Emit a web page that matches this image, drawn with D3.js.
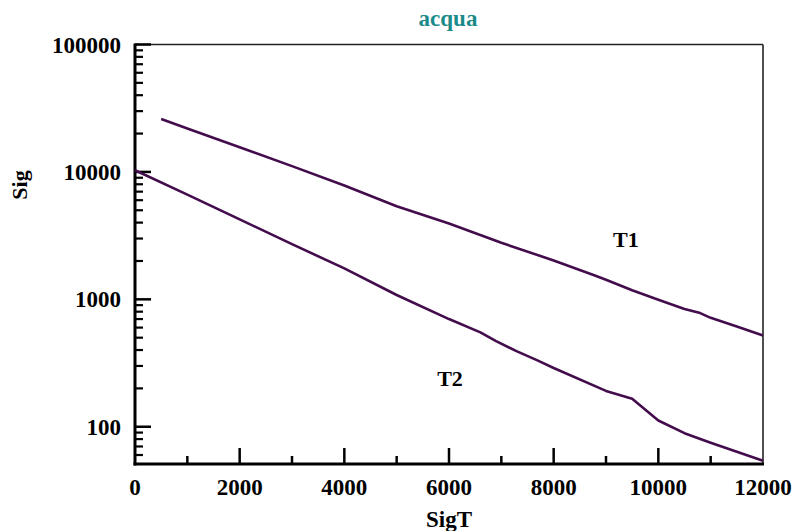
<!DOCTYPE html>
<html><head><meta charset="utf-8">
<script src="https://cdn.jsdelivr.net/npm/d3@7/dist/d3.min.js"></script>
<style>body{margin:0;background:#fff}svg{display:block}</style>
</head><body>
<svg id="c" width="794" height="531"></svg>
<script>
const title = "acqua";
const xLabel = "SigT";
const yLabel = "Sig";
const xTickValues = [0, 2000, 4000, 6000, 8000, 10000, 12000];
const yTickValues = [100, 1000, 10000, 100000];
const t1X = [500, 1000, 2000, 3000, 4000, 5000, 6000, 7000, 8000, 8800, 9000, 9500, 10000, 10500, 10800, 11000, 11500, 12000];
const t1Y = [26000, 21950, 15600, 11100, 7830, 5380, 3935, 2780, 2018, 1530, 1426, 1177, 991, 839, 780, 716, 611, 520];
const t2X = [0, 1000, 2000, 3000, 4000, 5000, 6000, 6600, 6900, 7300, 7700, 8000, 9000, 9500, 10000, 10500, 11000, 11500, 12000];
const t2Y = [10300, 6640, 4240, 2710, 1750, 1081, 700, 550, 470, 390, 330, 289, 191, 166, 112, 89, 75, 63.7, 54];
const seriesNames = ["T1", "T2"];
const labelPos = [[9380, 2980], [6020, 238]];

const svg = d3.select("#c");
const L = 135, R = 763, T = 44.5, B = 464;
const x = d3.scaleLinear().domain([0, 12000]).range([L, R]);
const y = d3.scaleLog().domain([51, 100000]).range([B, T]);
const font = "'Liberation Serif','Times New Roman',serif";

svg.append("line").attr("x1", L).attr("x2", R).attr("y1", T).attr("y2", T).attr("stroke", "#222").attr("stroke-width", 1.6);
svg.append("line").attr("x1", R).attr("x2", R).attr("y1", T).attr("y2", B).attr("stroke", "#222").attr("stroke-width", 1.6);

const yMinor = [];
for (let d = 10; d <= 10000; d *= 10) for (let k = 2; k <= 9; k++) { const v = k * d; if (v >= 51 && v < 100000) yMinor.push(v); }
const gy = svg.append("g");
gy.selectAll(".ym").data(yMinor).join("line").attr("x1", L).attr("x2", L + 8)
  .attr("y1", d => y(d)).attr("y2", d => y(d)).attr("stroke", "#000").attr("stroke-width", 2.2);
gy.selectAll(".yM").data(yTickValues).join("line").attr("x1", L).attr("x2", L + 16)
  .attr("y1", d => y(d)).attr("y2", d => y(d)).attr("stroke", "#000").attr("stroke-width", 2.5);
gy.selectAll("text").data(yTickValues).join("text").attr("x", L - 14).attr("y", d => y(d)).attr("dy", "0.35em")
  .attr("text-anchor", "end").attr("font-family", font).attr("font-weight", "bold").attr("font-size", 23).text(d => d);

const xMinor = d3.range(1000, 12000, 2000);
const gx = svg.append("g");
gx.selectAll(".xm").data(xMinor).join("line").attr("x1", d => x(d)).attr("x2", d => x(d))
  .attr("y1", B).attr("y2", B - 8).attr("stroke", "#000").attr("stroke-width", 2.5);
gx.selectAll(".xM").data(xTickValues.slice(1, -1)).join("line").attr("x1", d => x(d)).attr("x2", d => x(d))
  .attr("y1", B).attr("y2", B - 16).attr("stroke", "#000").attr("stroke-width", 2.5);
gx.selectAll("text").data(xTickValues).join("text").attr("x", d => x(d)).attr("y", 495)
  .attr("text-anchor", "middle").attr("font-family", font).attr("font-weight", "bold").attr("font-size", 23).text(d => d);

svg.append("line").attr("x1", L).attr("x2", L).attr("y1", T - 1).attr("y2", B + 1.5).attr("stroke", "#000").attr("stroke-width", 3);
svg.append("line").attr("x1", L - 1.5).attr("x2", R + 1).attr("y1", B).attr("y2", B).attr("stroke", "#000").attr("stroke-width", 3);

const line = d3.line().x(d => x(d[0])).y(d => y(d[1]));
[[t1X, t1Y], [t2X, t2Y]].forEach(([xs, ys]) => {
  svg.append("path").datum(xs.map((v, i) => [v, ys[i]])).attr("d", line)
    .attr("fill", "none").attr("stroke", "#430c4c").attr("stroke-width", 2.6).attr("stroke-linejoin", "round");
});
seriesNames.forEach((n, i) => {
  svg.append("text").attr("x", x(labelPos[i][0])).attr("y", y(labelPos[i][1])).attr("dy", "0.35em")
    .attr("text-anchor", "middle").attr("font-family", font).attr("font-weight", "bold").attr("font-size", 22).text(n);
});

svg.append("text").attr("x", 448).attr("y", 26).attr("text-anchor", "middle").attr("font-family", font)
  .attr("font-weight", "bold").attr("font-size", 23).attr("fill", "#1a8a8a").text(title);
svg.append("text").attr("x", 449).attr("y", 527).attr("text-anchor", "middle").attr("font-family", font)
  .attr("font-weight", "bold").attr("font-size", 23).text(xLabel);
svg.append("text").attr("transform", "translate(27,185) rotate(-90)").attr("text-anchor", "middle").attr("font-family", font)
  .attr("font-weight", "bold").attr("font-size", 22).text(yLabel);
</script>
</body></html>
